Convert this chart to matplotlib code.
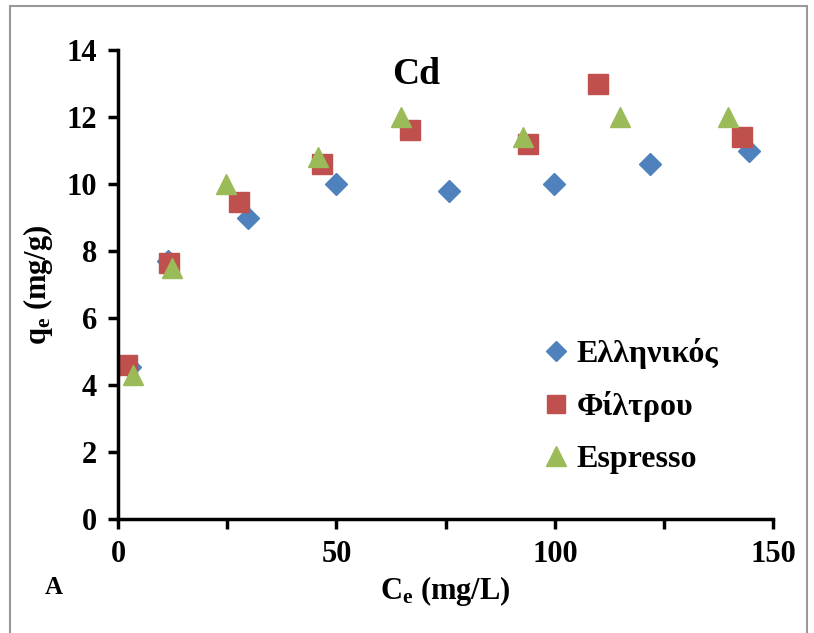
import matplotlib
matplotlib.use("Agg")
import matplotlib.pyplot as plt
from matplotlib.patches import Rectangle

# Cd adsorption on coffee residues
labels = ["Ελληνικός", "Φίλτρου", "Espresso"]

ce_greek = [2.8, 11.4, 29.8, 49.9, 75.7, 99.8, 121.8, 144.5]
qe_greek = [4.55, 7.7, 9.0, 10.0, 9.8, 10.0, 10.6, 11.0]

ce_filter = [2.0, 11.6, 27.7, 46.8, 66.8, 93.8, 109.8, 142.8]
qe_filter = [4.6, 7.65, 9.45, 10.6, 11.6, 11.2, 13.0, 11.4]

ce_espresso = [3.4, 12.3, 24.8, 45.8, 64.8, 92.8, 114.8, 139.7]
qe_espresso = [4.3, 7.5, 10.0, 10.8, 12.0, 11.4, 12.0, 12.0]

plt.rcParams["font.family"] = ["Liberation Serif", "DejaVu Serif"]
plt.rcParams["font.weight"] = "bold"
plt.rcParams["mathtext.fontset"] = "custom"
plt.rcParams["mathtext.rm"] = "Liberation Serif:bold"
plt.rcParams["mathtext.bf"] = "Liberation Serif:bold"
plt.rcParams["mathtext.it"] = "Liberation Serif:bold"

fig = plt.figure(figsize=(8.14, 6.33), dpi=100)
ax = fig.add_axes([0.145, 0.18, 0.805, 0.741])

ax.plot(ce_greek, qe_greek, ls="none", marker="D", ms=11, color="#4F81BD", label=labels[0])
ax.plot(ce_filter, qe_filter, ls="none", marker="s", ms=14, color="#C0504D", label=labels[1])
ax.plot(ce_espresso, qe_espresso, ls="none", marker="^", ms=15, color="#9BBB59", label=labels[2])

ax.set_xlim(0, 150)
ax.set_ylim(0, 14)
ax.set_xticks([0, 50, 100, 150])
ax.set_xticks([25, 75, 125], minor=True)
ax.set_yticks(range(0, 15, 2))
for s in ["top", "right"]:
    ax.spines[s].set_visible(False)
for s in ["left", "bottom"]:
    ax.spines[s].set_linewidth(2.5)
ax.tick_params(which="both", direction="out", width=2.5, length=7, labelsize=22, pad=8)
for lab in ax.get_xticklabels() + ax.get_yticklabels():
    lab.set_fontweight("bold")

ax.set_xlabel("C$_\\mathbf{e}$ (mg/L)", fontsize=22, fontweight="bold", labelpad=4)
ax.set_ylabel("q$_\\mathbf{e}$ (mg/g)", fontsize=22, fontweight="bold", labelpad=8)
ax.text(0.455, 0.985, "Cd", transform=ax.transAxes, ha="center", va="top",
        fontsize=27, fontweight="bold")

ax.legend(loc="lower right", bbox_to_anchor=(0.96, 0.035), frameon=False,
          handletextpad=0.1, labelspacing=0.7, markerscale=0.95,
          handlelength=1.1, prop={"weight": "bold", "size": 23})

fig.text(0.055, 0.062, "A", fontsize=18, fontweight="bold")
fig.patches.append(Rectangle((0.012, -0.01), 0.98, 1.0, transform=fig.transFigure,
                             fill=False, edgecolor="#999999", linewidth=1.5))

fig.savefig("out.png", dpi=100)
